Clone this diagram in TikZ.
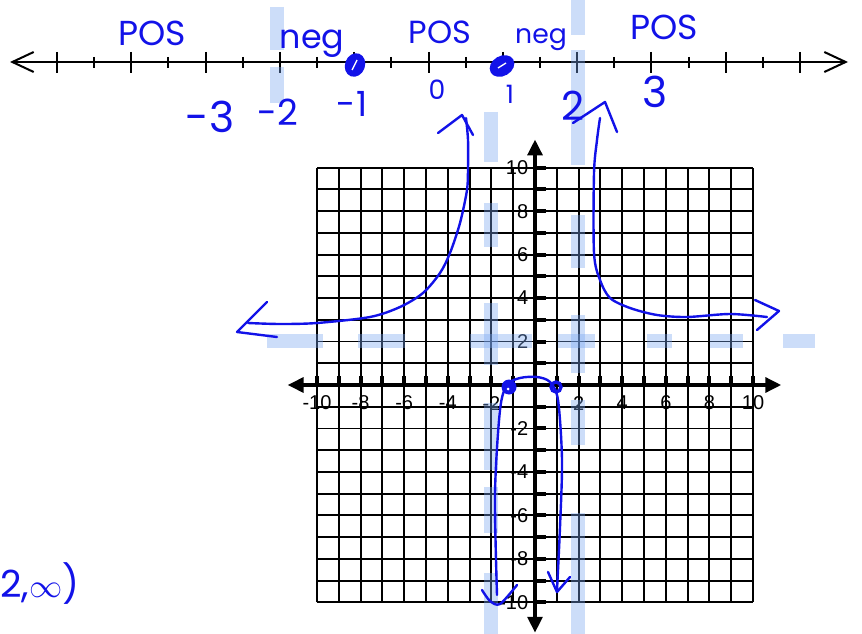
\documentclass[tikz,border=0pt]{standalone}
\usepackage{fontspec}
\setmainfont{Liberation Sans}
\newfontfamily\handfont{Poppins}
\usetikzlibrary{arrows.meta}
\definecolor{pen}{RGB}{18,18,232}
\definecolor{haze}{RGB}{120,165,240}
\newcommand{\hazev}[3]{\draw[haze] (#1,#2) -- (#1,#3);}
\newcommand{\hazeh}[3]{\draw[haze] (#2,#1) -- (#3,#1);}
\newcommand{\scrawl}[4]{\node[ink,font=\handfont\fontsize{#3}{#3}\selectfont] (#4) at (#1) {#2};}
\tikzset{
  haze/.style={draw=haze,line width=10pt,opacity=.38},
  ink/.style={text=pen,inner sep=0pt},
  hand/.style={draw=pen,line width=1.8pt,line cap=round,line join=round},
  gridline/.style={line width=1.4pt},
  axis/.style={line width=3pt,>={Triangle[length=12pt,width=11pt]},<->},
  tickmark/.style={line width=3pt},
  numline/.style={line width=1.5pt,>={Straight Barb[length=16pt,width=15pt]},<->},
  ticklabel/.style={inner sep=0pt}
}

\begin{document}
\begin{tikzpicture}[x=0.75pt,y=-0.75pt,font=\fontsize{15}{15}\selectfont]
  \useasboundingbox (0,0) rectangle (862,634);
  \clip (0,0) rectangle (862,634);

  % number line
  \coordinate (nl-left) at (10,62);
  \coordinate (nl-right) at (848,62);
  \draw[numline] (nl-left) -- (nl-right);
  \foreach \i in {0,...,20} {
    \pgfmathsetmacro{\tx}{57+37.15*\i}
    \ifodd\i
      \draw[line width=1.5pt] (\tx,57) -- (\tx,68);
    \else
      \draw[line width=1.5pt] (\tx,52) -- (\tx,73);
    \fi
  }

  % graph paper
  \begin{scope}[shift={(401.25pt,-288.75pt)},x=16.35pt,y=16.3pt]
    \foreach \i in {-10,...,10} {
      \draw[gridline] (\i,-10) -- (\i,10);
      \draw[gridline] (-10,\i) -- (10,\i);
    }
    \draw[axis] (-11.35,0) -- (11.3,0);
    \draw[axis] (0,-11.4) -- (0,11.3);
    \foreach \i in {-10,...,-1,1,2,...,10} {
      \draw[tickmark] (\i,0) -- (\i,0.4);
      \draw[tickmark] (0,\i) -- (0.5,\i);
    }
    \foreach \v in {-10,-8,-6,-4,-2,2,4,6,8,10} {
      \node[ticklabel] (xl\v) at (\v,-0.83) {\v};
      \node[ticklabel,anchor=east] (yl\v) at (-0.3,\v) {\v};
    }
  \end{scope}

  % asymptotes (highlighter)
  \foreach \a/\b in {7/50,67/103} {\hazev{277}{\a}{\b}}
  \foreach \a/\b in {112/162,203/247,303/365,403/470,487/533,573/634} {\hazev{491}{\a}{\b}}
  \foreach \a/\b in {0/35,50/165,215/268,315/373,400/445,513/634} {\hazev{578}{\a}{\b}}
  \foreach \a/\b in {267/323,358/405,470/532,558/595,647/672,710/743,783/815} {\hazeh{341}{\a}{\b}}

  % sign chart
  \scrawl{152,33}{POS}{26}{pos1}
  \scrawl{312,44}{neg}{25}{neg1}
  \scrawl{440,32}{POS}{24}{pos2}
  \scrawl{541,40}{neg}{20}{neg2}
  \scrawl{664,27}{POS}{26}{pos3}
  \scrawl{210,117}{-3}{32}{m3}
  \scrawl{278,112}{-2}{27}{m2}
  \scrawl{352,104}{-1}{26}{m1}
  \scrawl{437,90}{0}{20}{z0}
  \scrawl{510,94}{1}{19}{p1}
  \scrawl{573,106}{2}{30}{p2}
  \scrawl{655,92}{3}{32}{p3}
  \fill[pen,rotate around={-20:(355,65)}] (355,65) ellipse (10 and 12);
  \fill[pen,rotate around={30:(502,66)}] (502,66) ellipse (13 and 10);
  \draw[white,line width=1pt] (352,70) -- (357,60);
  \draw[white,line width=1pt] (498,68) -- (506,63);

  % left branch
  \draw[hand] plot[smooth] coordinates {(466,118) (468,140) (468,168) (467,190) (460,223)
    (450,253) (440,273) (423,293) (400,307) (370,317) (317,323) (280,324) (248,323)};
  \draw[hand] (438,133) -- (462,115) -- (473,135);
  \draw[hand] (267,302) -- (237,332) -- (277,337);

  % right branch
  \draw[hand] plot[smooth] coordinates {(600,118) (597,140) (594,173) (594,253) (600,280)
    (610,298) (630,308) (657,315) (687,317) (730,314) (767,317)};
  \draw[hand] (573,123) -- (605,102) -- (617,132);
  \draw[hand] (755,300) -- (779,311) -- (757,330);

  % middle piece
  \draw[hand] plot[smooth] coordinates {(497,595) (495,493) (500,410) (507,385) (520,378)
    (537,377) (550,382) (558,400) (562,460) (560,527) (557,590)};
  \draw[hand] plot[smooth] coordinates {(482,590) (490,601) (500,604) (517,585)};
  \draw[hand] (548,572) -- (557,592) -- (570,577);
  \fill[pen] (509,387) circle (7.5);
  \fill[white] (508,389) circle (1.5);
  \draw[pen,line width=2.5pt] (556,387) circle (5);

  % answer
  \node[ink,anchor=south west,font=\handfont\fontsize{28}{28}\selectfont] (answer) at (0,605) {2,$\infty$)};
\end{tikzpicture}
\end{document}
